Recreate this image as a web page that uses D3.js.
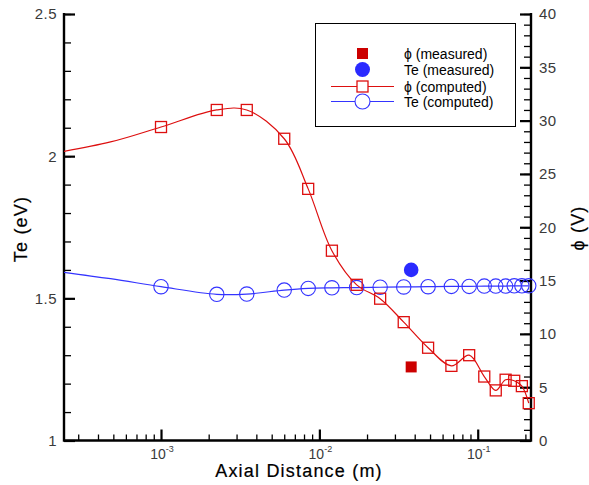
<!DOCTYPE html>
<html>
<head>
<meta charset="utf-8">
<script src="https://cdn.jsdelivr.net/npm/d3@7"></script>
<style>
  html, body { margin: 0; padding: 0; background: #fff; }
  svg { display: block; font-family: "Liberation Sans", Arial, Helvetica, sans-serif; }
</style>
</head>
<body>
<svg id="chart" width="589" height="485"></svg>
<script>
// Axial stations of the computation (m) and the computed profiles
const distance = [2.0e-4, 4.8e-4, 1.0e-3, 2.25e-3, 3.48e-3, 6.0e-3, 8.5e-3, 1.2e-2, 1.72e-2, 2.42e-2,
                  3.41e-2, 4.86e-2, 6.82e-2, 8.83e-2, 0.11, 0.13, 0.15, 0.17, 0.19, 0.21];
const phiComputed = [26.9, 28.0, 29.4, 31.0, 31.0, 28.3, 23.6, 17.8, 14.6, 13.3,
                     11.1, 8.7, 7.0, 8.0, 6.0, 4.7, 5.7, 5.6, 5.1, 3.5];
const teComputed = [1.598, 1.569, 1.541, 1.514, 1.515, 1.529, 1.535, 1.537, 1.538, 1.539,
                    1.540, 1.541, 1.542, 1.542, 1.543, 1.543, 1.543, 1.544, 1.544, 1.544];

// Probe measurements
const measuredDistance = [0.038];
const phiMeasured = [6.9];
const teMeasured = [1.6];

// Axis ranges and ticks
const xDomain = [2.44e-4, 0.217];
const xMajorTicks = [1e-3, 1e-2, 1e-1];
const xTickLabels = [["10", "-3"], ["10", "-2"], ["10", "-1"]];
const teDomain = [1, 2.5];
const teTicks = [1, 1.5, 2, 2.5];
const teTickLabels = ["1", "1.5", "2", "2.5"];
const phiDomain = [0, 40];
const phiTicks = [0, 5, 10, 15, 20, 25, 30, 35, 40];
const phiTickLabels = ["0", "5", "10", "15", "20", "25", "30", "35", "40"];

const legendLabels = ["\u03D5 (measured)", "Te (measured)", "\u03D5 (computed)", "Te (computed)"];

const RED = "#dd0f0f";
const BLUE = "#3434ff";

const svg = d3.select("#chart");
const plotLeft = 64, plotRight = 531, plotTop = 14, plotBottom = 440.5;

const x = d3.scaleLog().domain(xDomain).range([plotLeft, plotRight]);
const yTe = d3.scaleLinear().domain(teDomain).range([plotBottom, plotTop]);
const yPhi = d3.scaleLinear().domain(phiDomain).range([plotBottom, plotTop]);

svg.append("rect").attr("width", 589).attr("height", 485).attr("fill", "#fff");

svg.append("defs").append("clipPath").attr("id", "plot-clip")
  .append("rect").attr("x", plotLeft).attr("y", 0).attr("width", plotRight - plotLeft).attr("height", 485);

// ---- axes ----
const labelColor = "#3a3a3a";
function styleAxis(g, width) {
  g.select(".domain").remove();
  g.selectAll(".tick line").attr("stroke", "#000").attr("stroke-width", width);
  g.selectAll(".tick text").remove();
}

// left (Te) minor + major ticks, pointing inward
svg.append("g").attr("transform", `translate(${plotLeft},0)`)
  .call(d3.axisLeft(yTe).tickValues(d3.range(10, 26).map(d => d / 10)).tickSize(-7).tickSizeOuter(0))
  .call(g => styleAxis(g, 1.3));
svg.append("g").attr("transform", `translate(${plotLeft},0)`)
  .call(d3.axisLeft(yTe).tickValues(teTicks).tickSize(-11).tickSizeOuter(0))
  .call(g => styleAxis(g, 2.2));

// right (phi) ticks
svg.append("g").attr("transform", `translate(${plotRight},0)`)
  .call(d3.axisRight(yPhi).tickValues(d3.range(0, 41)).tickSize(-7).tickSizeOuter(0))
  .call(g => styleAxis(g, 1.3));
svg.append("g").attr("transform", `translate(${plotRight},0)`)
  .call(d3.axisRight(yPhi).tickValues(phiTicks).tickSize(-11).tickSizeOuter(0))
  .call(g => styleAxis(g, 2.2));

// bottom (log distance) ticks
const xMinor = [];
for (let e = -4; e <= -1; e++) for (let m = 2; m <= 9; m++) {
  const v = m * Math.pow(10, e);
  if (v > xDomain[0] && v < xDomain[1]) xMinor.push(v);
}
svg.append("g").attr("transform", `translate(0,${plotBottom})`)
  .call(d3.axisBottom(x).tickValues(xMinor).tickSize(-6).tickSizeOuter(0))
  .call(g => styleAxis(g, 1.3));
svg.append("g").attr("transform", `translate(0,${plotBottom})`)
  .call(d3.axisBottom(x).tickValues(xMajorTicks).tickSize(-11).tickSizeOuter(0))
  .call(g => styleAxis(g, 2.2));

// axis lines
const frame = svg.append("g").attr("stroke", "#000").attr("stroke-width", 2.4).attr("fill", "none");
frame.append("path").attr("d", `M${plotLeft},${plotTop - 1}V${plotBottom}H${plotRight}V${plotTop - 1}`);

// tick labels
svg.append("g").selectAll("text").data(teTicks).join("text")
  .attr("x", plotLeft - 7).attr("y", d => yTe(d)).attr("dy", "0.36em")
  .attr("text-anchor", "end").attr("font-size", 15).attr("letter-spacing", 0.5).attr("fill", labelColor)
  .text((d, i) => teTickLabels[i]);

svg.append("g").selectAll("text").data(phiTicks).join("text")
  .attr("x", plotRight + 8).attr("y", d => yPhi(d)).attr("dy", "0.36em")
  .attr("text-anchor", "start").attr("font-size", 15).attr("letter-spacing", 0.5).attr("fill", labelColor)
  .text((d, i) => phiTickLabels[i]);

const xl = svg.append("g").selectAll("text").data(xMajorTicks).join("text")
  .attr("x", d => x(d) + 1).attr("y", plotBottom + 18.5)
  .attr("text-anchor", "middle").attr("font-size", 14).attr("fill", labelColor);
xl.append("tspan").text((d, i) => xTickLabels[i][0]);
xl.append("tspan").attr("font-size", 9).attr("dy", -7).text((d, i) => xTickLabels[i][1]);

// axis titles
const titleStyle = t => t.attr("text-anchor", "middle").attr("font-size", 18)
  .attr("letter-spacing", 1.2).attr("fill", "#000")
  .attr("stroke", "#000").attr("stroke-width", 0.2);
svg.append("text").attr("x", 299).attr("y", 477).call(titleStyle)
  .text("Axial Distance (m)");
svg.append("text").attr("transform", "translate(27,229) rotate(-90)").call(titleStyle)
  .text("Te (eV)");
svg.append("text").attr("transform", "translate(584,228) rotate(-90)").call(titleStyle)
  .text("\u03D5 (V)");

// ---- computed profiles ----
const stations = distance.map((d, i) => ({ d, phi: phiComputed[i], te: teComputed[i] }));
const marked = stations.filter(s => s.d >= 1e-3);

const plot = svg.append("g");
const linePhi = d3.line().x(s => x(s.d)).y(s => yPhi(s.phi)).curve(d3.curveCatmullRom.alpha(0.5));
const lineTe = d3.line().x(s => x(s.d)).y(s => yTe(s.te)).curve(d3.curveCatmullRom.alpha(0.5));

plot.append("path").attr("clip-path", "url(#plot-clip)")
  .attr("d", lineTe(stations)).attr("fill", "none").attr("stroke", BLUE).attr("stroke-width", 1.2);
plot.append("path").attr("clip-path", "url(#plot-clip)")
  .attr("d", linePhi(stations)).attr("fill", "none").attr("stroke", RED).attr("stroke-width", 1.2);

const sq = 11, r = 7.2;
plot.append("g").selectAll("circle").data(marked).join("circle")
  .attr("cx", s => x(s.d)).attr("cy", s => yTe(s.te)).attr("r", r)
  .attr("fill", "none").attr("stroke", BLUE).attr("stroke-width", 1.1);
plot.append("g").selectAll("rect").data(marked).join("rect")
  .attr("x", s => x(s.d) - sq / 2).attr("y", s => yPhi(s.phi) - sq / 2)
  .attr("width", sq).attr("height", sq)
  .attr("fill", "none").attr("stroke", RED).attr("stroke-width", 1.3);

// ---- measurements ----
plot.append("g").selectAll("rect").data(measuredDistance).join("rect")
  .attr("x", (d) => x(d) - 5.5).attr("y", (d, i) => yPhi(phiMeasured[i]) - 5.5)
  .attr("width", 11).attr("height", 11).attr("fill", "#cc0000");
plot.append("g").selectAll("circle").data(measuredDistance).join("circle")
  .attr("cx", d => x(d)).attr("cy", (d, i) => yTe(teMeasured[i])).attr("r", 7.3)
  .attr("fill", "#2a2aff");

// ---- legend ----
const lg = svg.append("g");
lg.append("rect").attr("x", 315.5).attr("y", 23.5).attr("width", 200).attr("height", 103)
  .attr("fill", "#fff").attr("stroke", "#000").attr("stroke-width", 1);
const rowY = [53.5, 69.5, 86.5, 101.5];
const symX = 362.5;
lg.append("rect").attr("x", symX - 5.5).attr("y", rowY[0] - 5.5).attr("width", 11).attr("height", 11).attr("fill", "#cc0000");
lg.append("circle").attr("cx", symX).attr("cy", rowY[1]).attr("r", 7.5).attr("fill", "#2a2aff");
lg.append("line").attr("x1", 331).attr("x2", 394).attr("y1", rowY[2]).attr("y2", rowY[2]).attr("stroke", RED).attr("stroke-width", 1.2);
lg.append("rect").attr("x", symX - 5.5).attr("y", rowY[2] - 5.5).attr("width", 11).attr("height", 11)
  .attr("fill", "#fff").attr("stroke", RED).attr("stroke-width", 1.3);
lg.append("line").attr("x1", 331).attr("x2", 394).attr("y1", rowY[3]).attr("y2", rowY[3]).attr("stroke", BLUE).attr("stroke-width", 1.2);
lg.append("circle").attr("cx", symX).attr("cy", rowY[3]).attr("r", 7.5)
  .attr("fill", "#fff").attr("stroke", BLUE).attr("stroke-width", 1.1);
lg.selectAll("text.lab").data(legendLabels).join("text").attr("class", "lab")
  .attr("x", 404).attr("y", (d, i) => rowY[i]).attr("dy", "0.36em")
  .attr("font-size", 14).attr("fill", "#000").text(d => d);
</script>
</body>
</html>
